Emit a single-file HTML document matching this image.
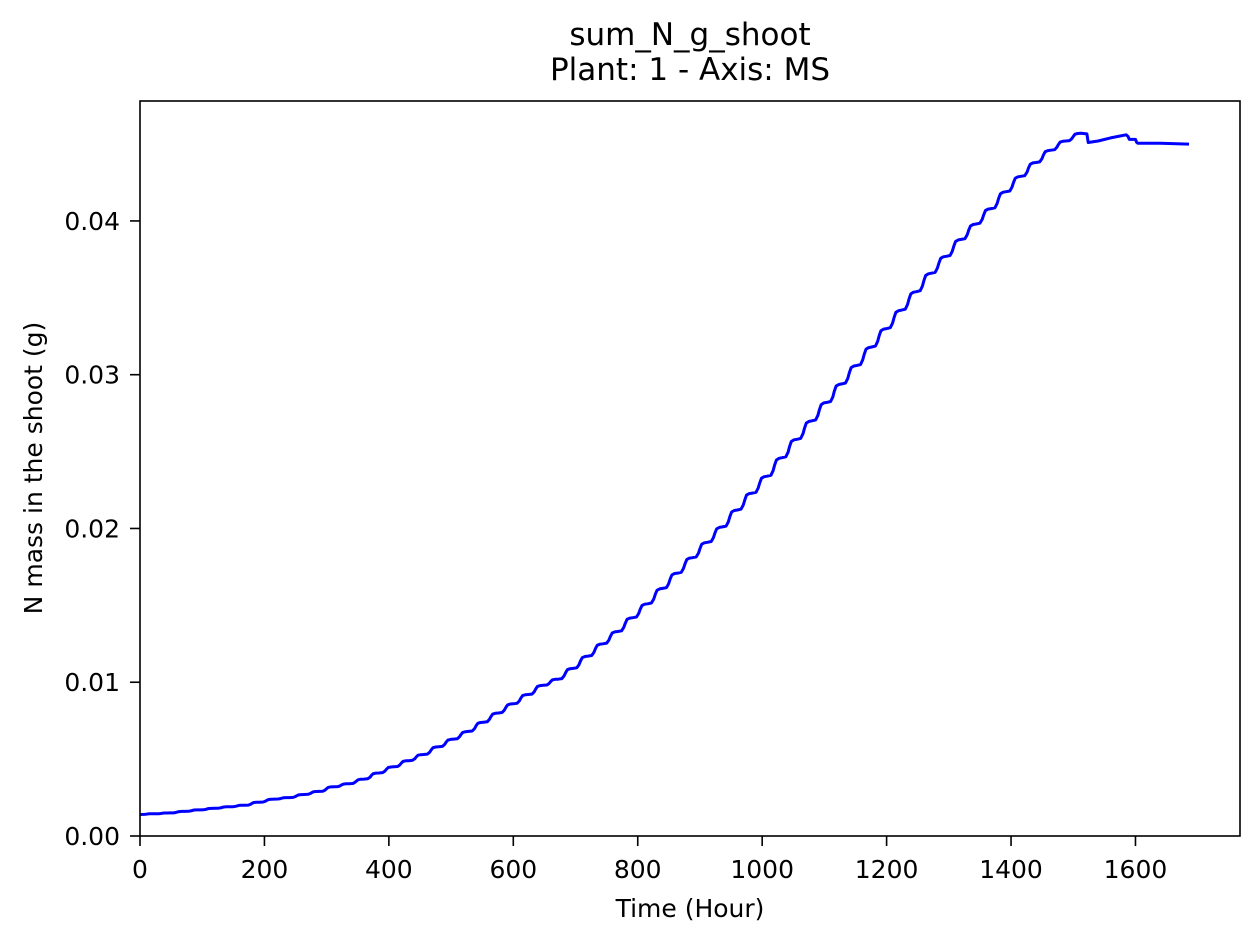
<!DOCTYPE html>
<html><head><meta charset="utf-8"><style>
body{margin:0;background:#fff;}
svg text{font-family:"DejaVu Sans","Liberation Sans",sans-serif;fill:#000;}
</style></head><body>
<svg id="chart" width="1259" height="943">
<g id="plot"></g>
</svg>
<script>
const dayTimes = [0,24,48,72,96,120,144,168,192,216,240,264,288,312,336,360,384,408,432,456,480,504,528,552,576,600,624,648,672,696,720,744,768,792,816,840,864,888,912,936,960,984,1008,1032,1056,1080,1104,1128,1152,1176,1200,1224,1248,1272,1296,1320,1344,1368,1392,1416,1440,1464,1488,1512];
const dayValues = [0.0014,0.00145,0.0015,0.0016,0.0017,0.0018,0.0019,0.0020,0.0022,0.0024,0.0025,0.0027,0.0029,0.0032,0.0034,0.0037,0.0041,0.0045,0.0049,0.0053,0.0058,0.0063,0.0068,0.0074,0.0080,0.0086,0.0092,0.0098,0.0102,0.0109,0.0117,0.0125,0.0133,0.0142,0.0151,0.0161,0.0171,0.0181,0.0191,0.0201,0.0212,0.0223,0.0234,0.0246,0.0258,0.0270,0.0282,0.0294,0.0306,0.0318,0.0330,0.0342,0.0354,0.0366,0.0377,0.0388,0.0398,0.0408,0.0419,0.0429,0.0438,0.0446,0.0452,0.0457];
const tailTimes = [1522,1524,1540,1560,1585,1588,1590,1600,1602,1604,1640,1686];
const tailValues = [0.04566,0.0451,0.0452,0.0454,0.0456,0.0455,0.0453,0.0453,0.0451,0.04505,0.04505,0.0450];
const xTicks = [0,200,400,600,800,1000,1200,1400,1600];
const yTicks = [0,0.01,0.02,0.03,0.04];
const yTickLabels = ["0.00","0.01","0.02","0.03","0.04"];

const L=140,R=1240,T=101,B=836, XMAX=1768, YMAX=0.0478;
const xs=t=>L+t/XMAX*(R-L);
const ys=v=>B-v/YMAX*(B-T);
const NS="http://www.w3.org/2000/svg";
const g=document.getElementById('plot');
function mk(tag,attrs){const e=document.createElementNS(NS,tag);for(const k in attrs)e.setAttribute(k,attrs[k]);g.appendChild(e);return e;}

let pts=[];
for(let i=0;i<dayTimes.length-1;i++){
  const t0=dayTimes[i],t1=dayTimes[i+1],v0=dayValues[i],v1=dayValues[i+1],d=v1-v0,dt=t1-t0;
  pts.push([t0,v0],[t0+dt*0.25,v0+d*0.05],[t0+dt*0.4,v0+d*0.3],[t0+dt*0.5,v0+d*0.6],[t0+dt*0.62,v0+d*0.88],[t0+dt*0.8,v0+d*0.97]);
}
pts.push([dayTimes[dayTimes.length-1],dayValues[dayValues.length-1]]);
for(let i=0;i<tailTimes.length;i++) pts.push([tailTimes[i],tailValues[i]]);
const line=mk('polyline',{points:pts.map(p=>xs(p[0]).toFixed(1)+','+ys(p[1]).toFixed(1)).join(' '),fill:'none',stroke:'#0000ff','stroke-width':3,'stroke-linejoin':'round'});



const frame=mk('rect',{x:L,y:T,width:R-L,height:B-T,fill:'none',stroke:'#000','stroke-width':1.6});



xTicks.forEach(t=>{
  const x=xs(t);
  const tk=mk('line',{x1:x,x2:x,y1:B,y2:B+10,stroke:'#000','stroke-width':1.6});
  
  
  const tx=mk('text',{x:x,y:878,'text-anchor':'middle','font-size':'25'});
  tx.textContent=t;
  
  
});
yTicks.forEach((v,i)=>{
  const y=ys(v);
  const tk=mk('line',{x1:L-10,x2:L,y1:y,y2:y,stroke:'#000','stroke-width':1.6});
  
  
  const tx=mk('text',{x:L-20,y:y+9,'text-anchor':'end','font-size':'25'});
  tx.textContent=yTickLabels[i];
  
  
});
</script>
<svg style="position:absolute;left:0;top:0" width="1259" height="943">
<text x="690" y="45" text-anchor="middle" font-size="31">sum_N_g_shoot</text>
<text x="690" y="80" text-anchor="middle" font-size="31">Plant: 1 - Axis: MS</text>
<text x="690" y="917" text-anchor="middle" font-size="25">Time (Hour)</text>
<text x="42" y="468" text-anchor="middle" font-size="25" transform="rotate(-90 42 468)">N mass in the shoot (g)</text>
</svg>
</body></html>
